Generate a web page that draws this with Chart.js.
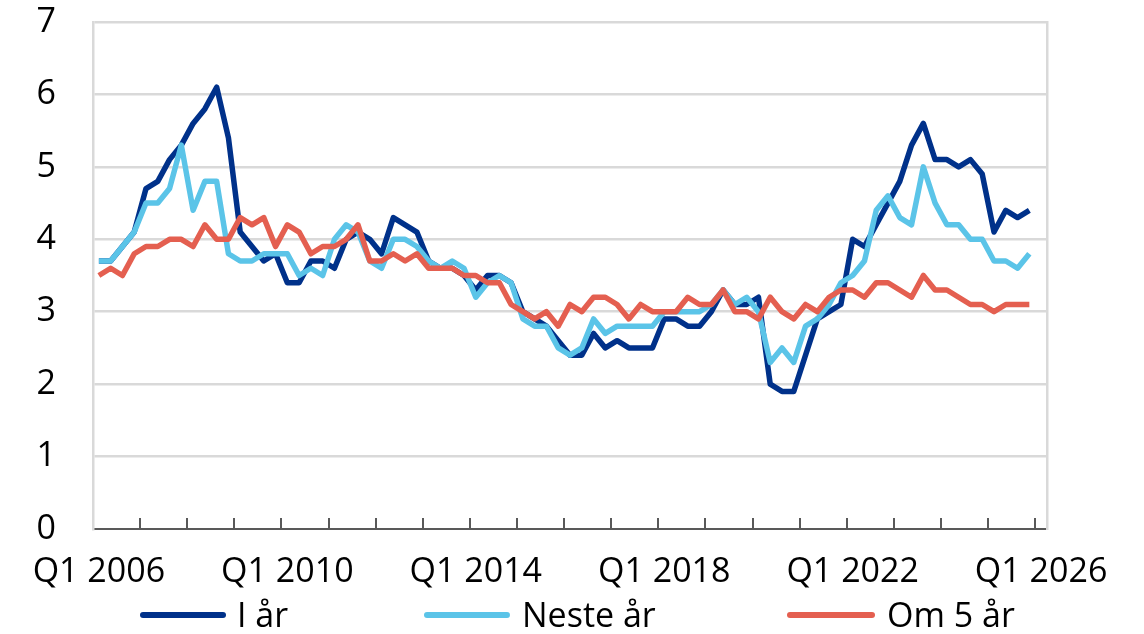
<!DOCTYPE html>
<html>
<head>
<meta charset="utf-8">
<script src="https://cdn.jsdelivr.net/npm/chart.js@4.4.1/dist/chart.umd.min.js"></script>
<style>
  html, body { margin: 0; padding: 0; background: #fff; }
  #wrap { position: relative; width: 1144px; height: 634px; }
  #legend { position: absolute; left: 0; top: 0; width: 1144px; height: 634px; pointer-events: none;
            font-family: 'Open Sans', 'Noto Sans', sans-serif; font-size: 34px; color: #000; }
  .sw { position: absolute; height: 6px; border-radius: 3px; top: 612px; }
  .lt { position: absolute; top: 594px; line-height: 40px; white-space: nowrap; }
</style>
</head>
<body>
<div id="wrap">
  <canvas id="chart" width="1144" height="634"></canvas>
  <div id="legend"></div>
</div>
<script>
// Quarterly survey: expected inflation (%), Q1 2006 onwards
const firstYear = 2006;
const lastYear = 2026;   // axis runs to Q1 2026
const tickLabels = ['Q1 2006', 'Q1 2010', 'Q1 2014', 'Q1 2018', 'Q1 2022', 'Q1 2026'];
const yTicks = [0, 1, 2, 3, 4, 5, 6, 7];

const seriesNames = ['I år', 'Neste år', 'Om 5 år'];
const seriesColors = ['#00318a', '#5bc4e8', '#e45f50'];

const iAar = [
  3.7, 3.7, 3.9, 4.1, 4.7, 4.8, 5.1, 5.3, 5.6, 5.8, 6.1, 5.4, 4.1, 3.9, 3.7, 3.8,
  3.4, 3.4, 3.7, 3.7, 3.6, 4.0, 4.1, 4.0, 3.8, 4.3, 4.2, 4.1, 3.7, 3.6, 3.6, 3.5,
  3.3, 3.5, 3.5, 3.4, 3.0, 2.9, 2.8, 2.6, 2.4, 2.4, 2.7, 2.5, 2.6, 2.5, 2.5, 2.5,
  2.9, 2.9, 2.8, 2.8, 3.0, 3.3, 3.1, 3.1, 3.2, 2.0, 1.9, 1.9, 2.4, 2.9, 3.0, 3.1,
  4.0, 3.9, 4.2, 4.5, 4.8, 5.3, 5.6, 5.1, 5.1, 5.0, 5.1, 4.9, 4.1, 4.4, 4.3, 4.4
];
const nesteAar = [
  3.7, 3.7, 3.9, 4.1, 4.5, 4.5, 4.7, 5.3, 4.4, 4.8, 4.8, 3.8, 3.7, 3.7, 3.8, 3.8,
  3.8, 3.5, 3.6, 3.5, 4.0, 4.2, 4.1, 3.7, 3.6, 4.0, 4.0, 3.9, 3.7, 3.6, 3.7, 3.6,
  3.2, 3.4, 3.5, 3.4, 2.9, 2.8, 2.8, 2.5, 2.4, 2.5, 2.9, 2.7, 2.8, 2.8, 2.8, 2.8,
  3.0, 3.0, 3.0, 3.0, 3.1, 3.3, 3.1, 3.2, 3.0, 2.3, 2.5, 2.3, 2.8, 2.9, 3.1, 3.4,
  3.5, 3.7, 4.4, 4.6, 4.3, 4.2, 5.0, 4.5, 4.2, 4.2, 4.0, 4.0, 3.7, 3.7, 3.6, 3.8
];
const om5Aar = [
  3.5, 3.6, 3.5, 3.8, 3.9, 3.9, 4.0, 4.0, 3.9, 4.2, 4.0, 4.0, 4.3, 4.2, 4.3, 3.9,
  4.2, 4.1, 3.8, 3.9, 3.9, 4.0, 4.2, 3.7, 3.7, 3.8, 3.7, 3.8, 3.6, 3.6, 3.6, 3.5,
  3.5, 3.4, 3.4, 3.1, 3.0, 2.9, 3.0, 2.8, 3.1, 3.0, 3.2, 3.2, 3.1, 2.9, 3.1, 3.0,
  3.0, 3.0, 3.2, 3.1, 3.1, 3.3, 3.0, 3.0, 2.9, 3.2, 3.0, 2.9, 3.1, 3.0, 3.2, 3.3,
  3.3, 3.2, 3.4, 3.4, 3.3, 3.2, 3.5, 3.3, 3.3, 3.2, 3.1, 3.1, 3.0, 3.1, 3.1, 3.1
];

// quarter categories Q1 2006 .. Q1 2026
const quarters = [];
for (let y = firstYear; y <= lastYear; y++) {
  for (let q = 1; q <= 4; q++) {
    if (y === lastYear && q > 1) break;
    quarters.push('Q' + q + ' ' + y);
  }
}

const FONT = "'Open Sans', 'Noto Sans', sans-serif";
const gridGrey = '#d9d9d9';
const axisGrey = '#595959';

function lineSet(label, data, color, order) {
  return {
    label, data, order,
    borderColor: color,
    backgroundColor: color,
    borderWidth: 5.5,
    borderJoinStyle: 'round',
    pointRadius: 0,
    tension: 0,
    fill: false
  };
}

// y scales: no extra room for half labels, plot area is fixed by layout padding
function noPad(s) {
  s.paddingTop = 0;
  s.paddingBottom = 0;
}

new Chart(document.getElementById('chart'), {
  type: 'line',
  data: {
    labels: quarters,
    datasets: [
      lineSet(seriesNames[0], iAar, seriesColors[0], 2),
      lineSet(seriesNames[1], nesteAar, seriesColors[1], 1),
      lineSet(seriesNames[2], om5Aar, seriesColors[2], 0)
    ]
  },
  options: {
    responsive: false,
    devicePixelRatio: 1,
    animation: false,
    layout: { padding: { left: 0, right: 97, top: 22, bottom: 0 } },
    plugins: { legend: { display: false }, tooltip: { enabled: false } },
    scales: {
      x: {
        type: 'category',
        offset: true,
        grid: {
          offset: true,
          drawOnChartArea: false,
          drawTicks: true,
          tickLength: -11,
          lineWidth: 2,
          color: ctx => (ctx.index % 4 === 0 ? axisGrey : 'rgba(0,0,0,0)')
        },
        border: { display: true, color: axisGrey, width: 2 },
        ticks: {
          autoSkip: false,
          maxRotation: 0,
          minRotation: 0,
          padding: 34,
          color: '#000',
          font: { family: FONT, size: 34 },
          callback: function (v) {
            const lab = this.getLabelForValue(v);
            return tickLabels.includes(lab) ? lab : '';
          }
        },
        afterFit: s => { s.height = 105; s.paddingLeft = 0; s.paddingRight = 0; }
      },
      y: {
        min: 0,
        max: 7,
        afterBuildTicks: s => { s.ticks = yTicks.map(v => ({ value: v })); },
        grid: {
          drawTicks: false,
          lineWidth: 2.5,
          color: ctx => (ctx.tick && ctx.tick.value === 0 ? 'rgba(0,0,0,0)' : gridGrey)
        },
        border: { display: true, color: gridGrey, width: 2.5 },
        ticks: {
          padding: 37,
          color: '#000',
          font: { family: FONT, size: 34 }
        },
        afterFit: s => { s.width = 93; noPad(s); }
      },
      yRight: {
        position: 'right',
        min: 0,
        max: 7,
        grid: { display: false, drawTicks: false },
        border: { display: true, color: gridGrey, width: 2.5 },
        ticks: { display: false },
        afterFit: s => { s.width = 0; noPad(s); }
      }
    }
  }
});

// legend (Excel style, fixed spacing)
const legendItems = [
  { sw: 140, w: 86, tx: 237 },
  { sw: 424, w: 86, tx: 522 },
  { sw: 787, w: 88, tx: 887 }
];
const legend = document.getElementById('legend');
seriesNames.forEach((name, i) => {
  const it = legendItems[i];
  const sw = document.createElement('div');
  sw.className = 'sw';
  sw.style.left = it.sw + 'px';
  sw.style.width = it.w + 'px';
  sw.style.background = seriesColors[i];
  legend.appendChild(sw);
  const tx = document.createElement('div');
  tx.className = 'lt';
  tx.style.left = it.tx + 'px';
  tx.textContent = name;
  legend.appendChild(tx);
});
</script>
</body>
</html>
